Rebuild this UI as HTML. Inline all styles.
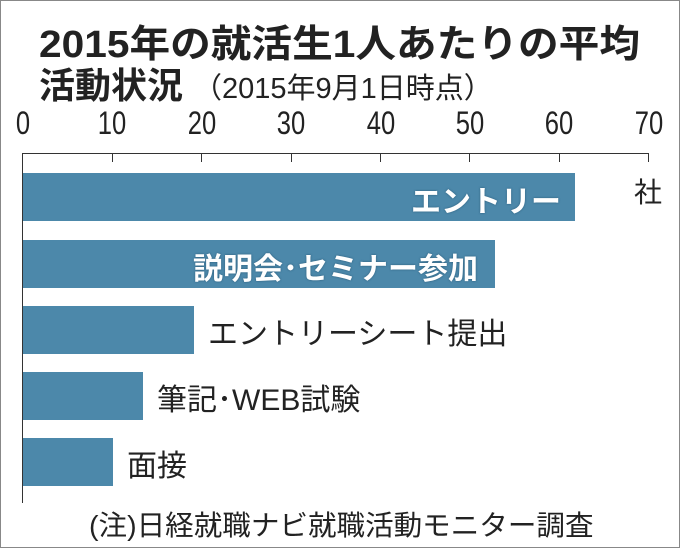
<!DOCTYPE html>
<html><head><meta charset="utf-8"><style>
body{margin:0;background:#fff;}
#c{position:relative;width:678px;height:546px;border:1px solid #888;overflow:hidden;font-family:"Liberation Sans","Noto Sans CJK JP",sans-serif;color:#222;}
.t{position:absolute;white-space:nowrap;transform-origin:0 0;}
.bar{position:absolute;left:22px;height:48px;background:#4c88aa;}
.in{position:absolute;color:#fff;font-weight:bold;font-size:30px;text-shadow:0 0 2px #2a5a78;}
.lb{position:absolute;font-size:30px;}
.tk{position:absolute;top:152px;width:1px;height:9px;background:#333;}
.n{position:absolute;top:104px;font-size:32px;transform:scaleX(.8);width:60px;text-align:center;}
</style></head><body><div id="c">
<div class="t" style="left:38px;top:12px;font-size:38px;font-weight:bold;transform:scaleX(1.07);">2015年の就活生1人あたりの平均</div>
<div class="t" style="left:38px;top:56px;font-size:36px;font-weight:bold;">活動状況 <span style="font-weight:normal;font-size:29px;">（2015年9月1日時点）</span></div>
<div class="n" style="left:-8px">0</div><div class="n" style="left:81px">10</div><div class="n" style="left:171px">20</div><div class="n" style="left:260px">30</div><div class="n" style="left:350px">40</div><div class="n" style="left:439px">50</div><div class="n" style="left:528px">60</div><div class="n" style="left:618px">70</div>
<div style="position:absolute;left:21px;top:152px;width:627px;height:1px;background:#333"></div>
<div style="position:absolute;left:21px;top:152px;width:1px;height:350px;background:#333"></div>
<div class="tk" style="left:111px"></div><div class="tk" style="left:200px"></div><div class="tk" style="left:290px"></div><div class="tk" style="left:379px"></div><div class="tk" style="left:468px"></div><div class="tk" style="left:558px"></div><div class="tk" style="left:647px"></div>
<div class="t" style="left:633px;top:170px;font-size:28px;">社</div>
<div class="bar" style="top:172px;width:552px"></div><div class="in" style="left:410px;top:176px">エントリー</div>
<div class="bar" style="top:239px;width:472px"></div><div class="in" style="left:192px;top:243px">説明会･セミナー参加</div>
<div class="bar" style="top:305px;width:171px"></div><div class="lb" style="left:207px;top:308px">エントリーシート提出</div>
<div class="bar" style="top:371px;width:120px"></div><div class="lb" style="left:156px;top:374px">筆記･WEB試験</div>
<div class="bar" style="top:437px;width:90px"></div><div class="lb" style="left:126px;top:440px">面接</div>
<div class="t" style="left:88px;top:503px;font-size:28px;transform:scaleX(1.02);">(注)日経就職ナビ就職活動モニター調査</div>
</div></body></html>
